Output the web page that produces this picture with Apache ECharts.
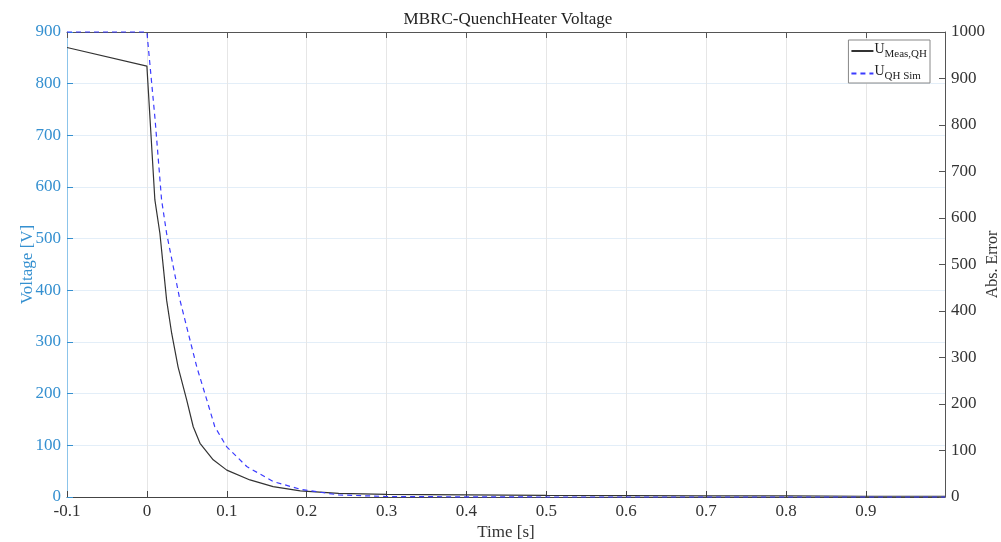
<!DOCTYPE html>
<html>
<head>
<meta charset="utf-8">
<script src="https://cdn.jsdelivr.net/npm/echarts@6/dist/echarts.min.js"></script>
<style>html,body{margin:0;padding:0;background:#fff}#c{width:1001px;height:542px}</style>
</head>
<body>
<div id="c"></div>
<script>
// Measured quench heater voltage
const tMeas = [-0.1, 0, 0.004, 0.010, 0.0163, 0.0205, 0.0247, 0.031, 0.039, 0.0498, 0.058, 0.0665, 0.083, 0.1, 0.129, 0.158, 0.192, 0.24, 0.3, 0.4, 0.5, 0.6, 0.7, 0.8, 0.9, 0.999];
const vMeas = [870, 834, 730, 575, 510, 446, 381, 317, 252, 188, 136, 104, 72, 52, 33, 20, 12, 7, 5, 4, 3, 2.5, 2, 2, 1.5, 1.5];
// Simulated quench heater voltage
const tSim = [-0.1, 0, 0.0103, 0.0184, 0.0247, 0.033, 0.0414, 0.0518, 0.0624, 0.075, 0.085, 0.1, 0.125, 0.158, 0.192, 0.24, 0.3, 0.4, 0.5, 0.7, 0.999];
const vSim = [900, 900, 730, 575, 510, 446, 381, 317, 252, 188, 136, 97, 59, 30, 15, 4, 1, 0.3, 0, 0, 0];

const xTickLabels = ['-0.1','0','0.1','0.2','0.3','0.4','0.5','0.6','0.7','0.8','0.9'];

const FONT = 'Liberation Serif';
const BLUE = '#3590d0';
const DARK = '#333333';

const chart = echarts.init(document.getElementById('c'));
chart.setOption({
  animation: false,
  backgroundColor: '#ffffff',
  title: {
    text: 'MBRC-QuenchHeater Voltage',
    left: 503, top: 6, textAlign: 'center',
    textStyle: {fontFamily: FONT, fontSize: 17, fontWeight: 'normal', color: '#222'}
  },
  grid: {left: 67, right: 56, top: 32, bottom: 45, containLabel: false, outerBoundsMode: 'none'},
  legend: {
    right: 71, top: 40, orient: 'vertical',
    itemWidth: 22, itemHeight: 14, itemGap: 5,
    padding: [2, 3, 1, 2],
    borderColor: '#888', borderWidth: 1, backgroundColor: '#fff',
    data: ['meas', 'sim'],
    itemStyle: {opacity: 0},
    formatter: function (n) {
      return n === 'meas' ? '{u|U}{s|Meas,QH}' : '{u|U}{s|QH Sim}';
    },
    textStyle: {
      fontFamily: FONT, color: '#222', padding: [0, 0, 0, -4],
      rich: {
        u: {fontFamily: FONT, fontSize: 14, color: '#222', padding: [0, 0, 4, 0]},
        s: {fontFamily: FONT, fontSize: 11, color: '#222', padding: [6, 0, 0, 0]}
      }
    }
  },
  xAxis: [{
    type: 'value', min: -0.1, max: 0.999, interval: 0.1, position: 'bottom',
    name: 'Time [s]', nameLocation: 'middle', nameGap: 27, nameMoveOverlap: false,
    nameTextStyle: {fontFamily: FONT, fontSize: 17, color: '#333'},
    axisLine: {onZero: false, lineStyle: {color: '#444', width: 1}},
    axisTick: {inside: true, length: 6, lineStyle: {color: '#444'}},
    axisLabel: {
      fontFamily: FONT, fontSize: 17, color: '#333', margin: 6,
      showMaxLabel: false,
      formatter: function (v) {
        const i = Math.round((v + 0.1) * 10);
        return Math.abs(v - (-0.1 + i * 0.1)) < 1e-6 ? (xTickLabels[i] || '') : '';
      }
    },
    splitLine: {show: true, lineStyle: {color: '#e6e6e6', width: 1}}
  }, {
    type: 'value', min: -0.1, max: 0.999, interval: 0.1, position: 'top',
    axisLine: {onZero: false, lineStyle: {color: '#555', width: 1}},
    axisTick: {inside: true, length: 6, lineStyle: {color: '#555'}},
    axisLabel: {show: false},
    splitLine: {show: false}
  }],
  yAxis: [{
    type: 'value', min: 0, max: 900, interval: 100, position: 'left',
    name: 'Voltage [V]', nameLocation: 'middle', nameGap: 31, nameRotate: 90, nameMoveOverlap: false,
    nameTextStyle: {fontFamily: FONT, fontSize: 17, color: BLUE},
    axisLine: {show: true, onZero: false, lineStyle: {color: '#8cc4ea', width: 1}},
    axisTick: {show: true, inside: true, length: 6, lineStyle: {color: BLUE}},
    axisLabel: {fontFamily: FONT, fontSize: 17, color: BLUE, margin: 6},
    splitLine: {show: true, lineStyle: {color: '#e3eef8', width: 1}}
  }, {
    type: 'value', min: 0, max: 1000, interval: 100, position: 'right',
    name: 'Abs. Error', nameLocation: 'middle', nameGap: 40, nameRotate: 90, nameMoveOverlap: false,
    nameTextStyle: {fontFamily: FONT, fontSize: 16, color: '#333'},
    axisLine: {show: true, onZero: false, lineStyle: {color: '#555', width: 1}},
    axisTick: {show: true, inside: true, length: 6, lineStyle: {color: '#555'}},
    axisLabel: {fontFamily: FONT, fontSize: 17, color: '#333', margin: 6,
      formatter: function (v) { return String(v); }},
    splitLine: {show: false}
  }],
  series: [{
    name: 'meas', type: 'line', xAxisIndex: 0, yAxisIndex: 0,
    data: tMeas.map((t, i) => [t, vMeas[i]]),
    symbol: 'none', smooth: false, clip: true, z: 5,
    lineStyle: {color: DARK, width: 1.2},
    itemStyle: {color: DARK}
  }, {
    name: 'sim', type: 'line', xAxisIndex: 0, yAxisIndex: 0,
    data: tSim.map((t, i) => [t, vSim[i]]),
    symbol: 'none', smooth: false, clip: false, z: 6,
    lineStyle: {color: '#3b3bff', width: 1.2, type: [5, 4]},
    itemStyle: {color: '#3b3bff'}
  }]
});
</script>
</body>
</html>
